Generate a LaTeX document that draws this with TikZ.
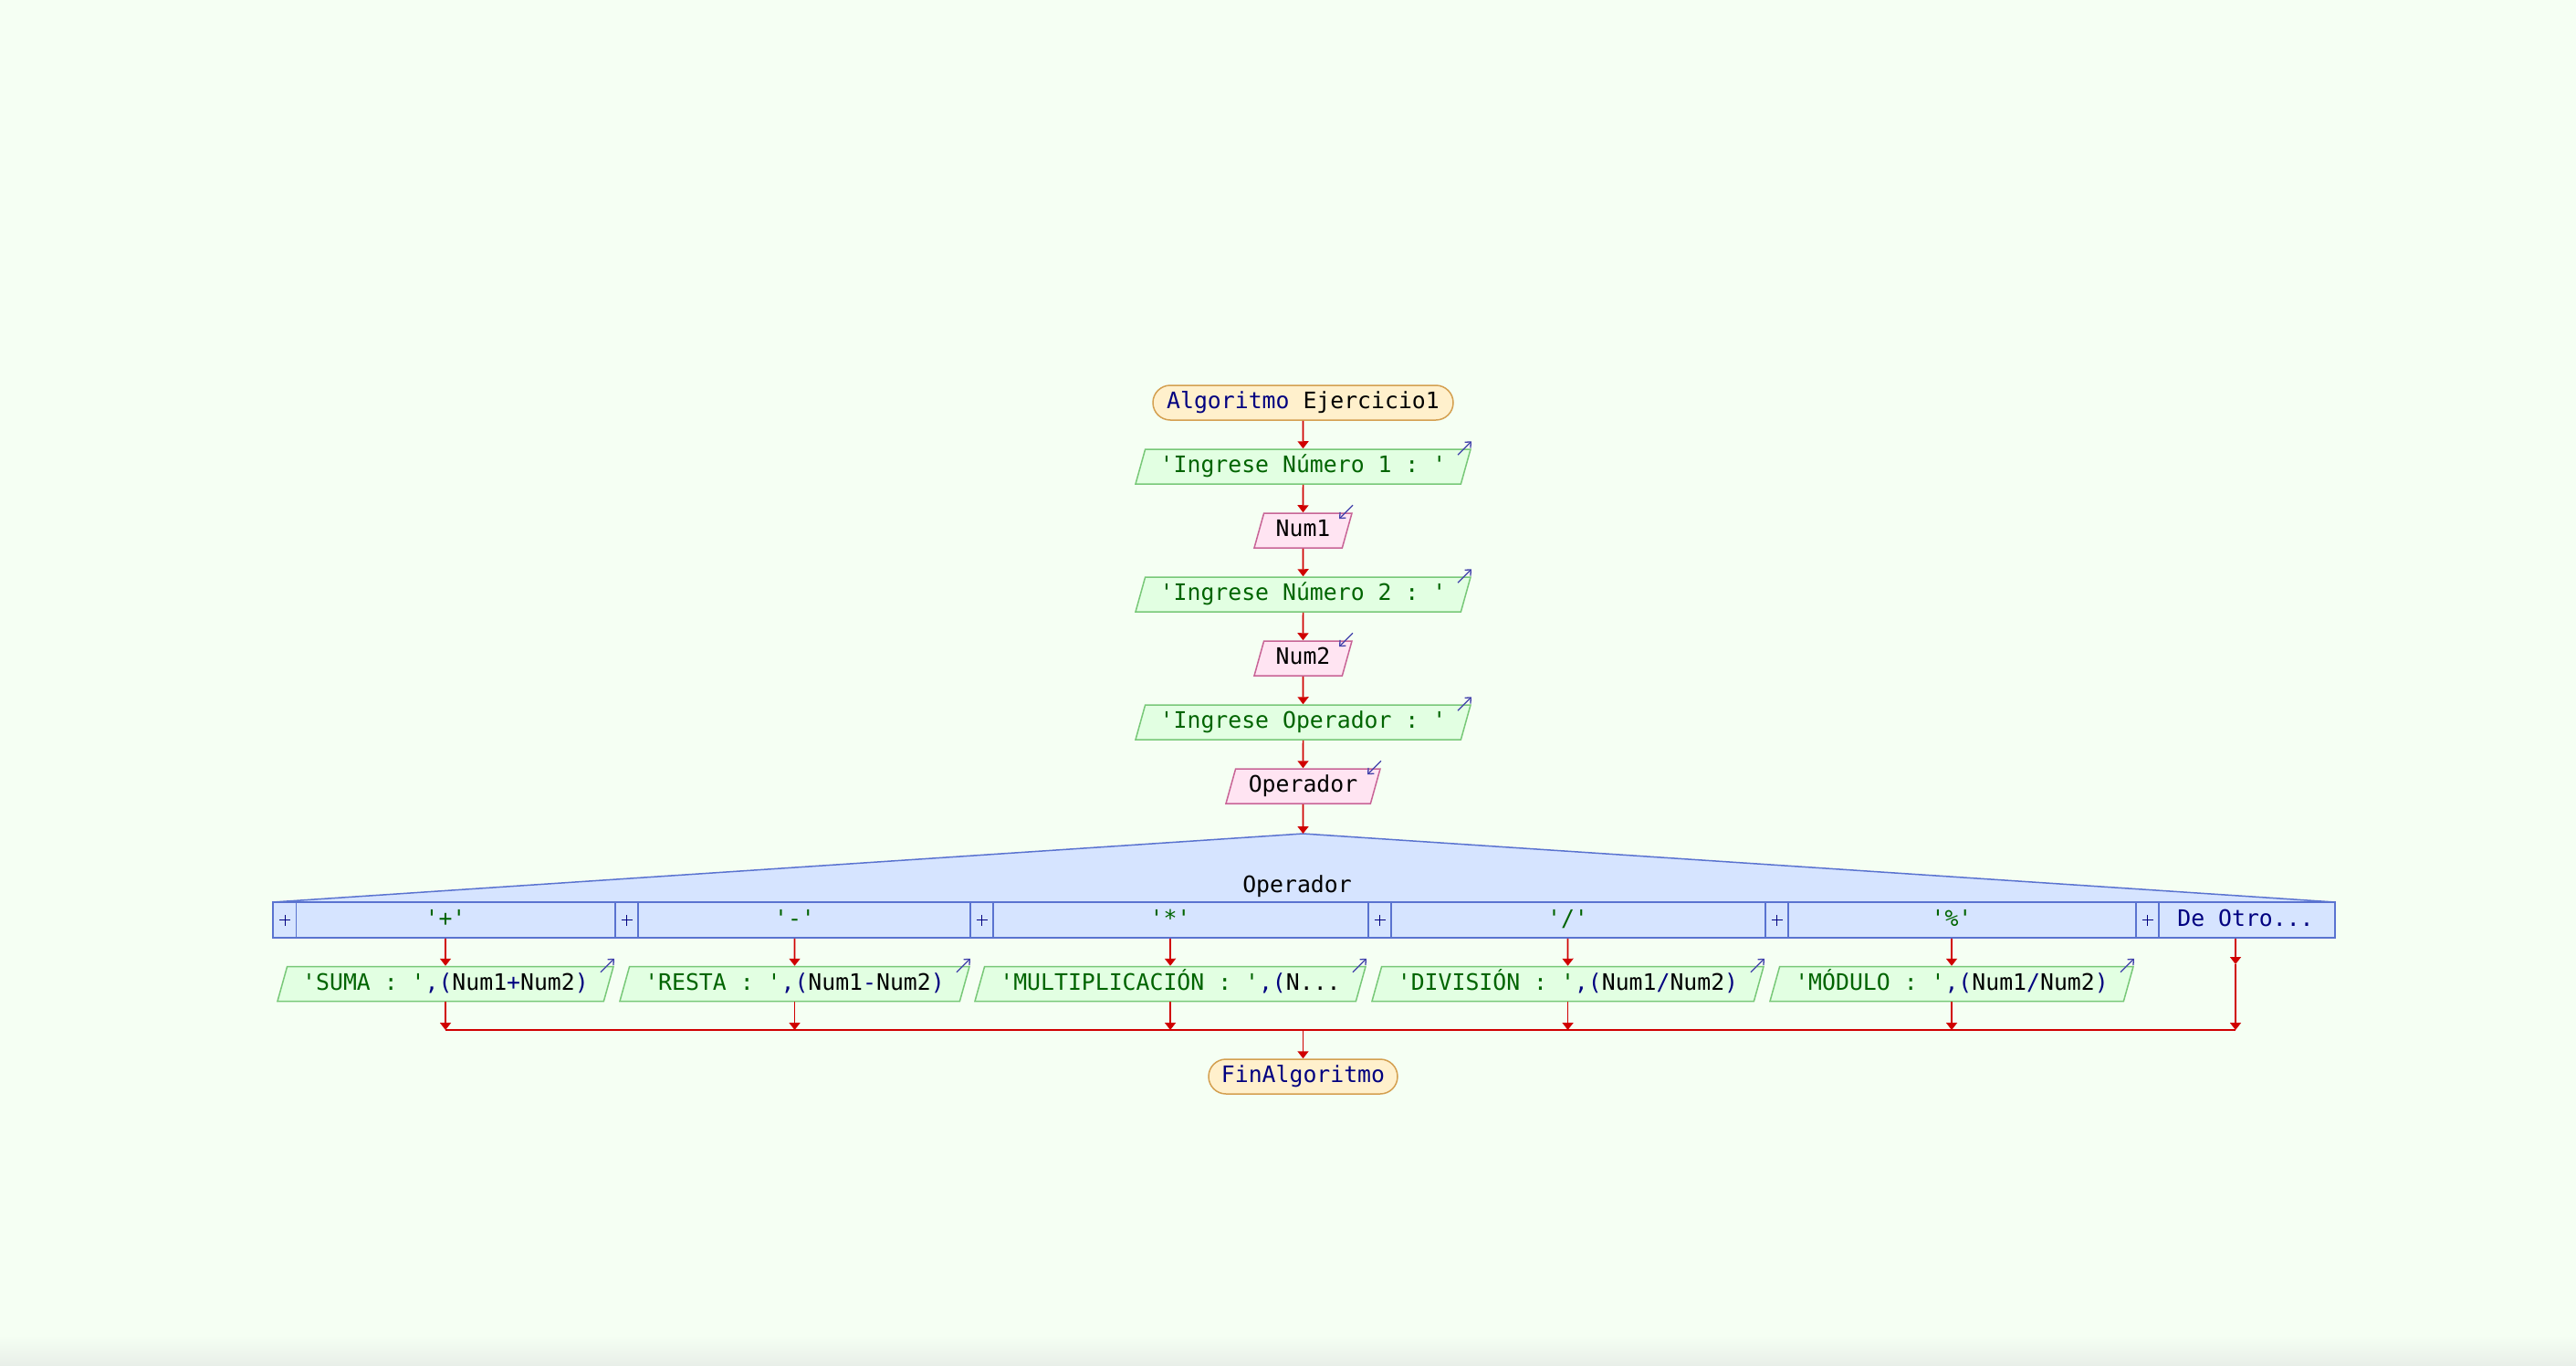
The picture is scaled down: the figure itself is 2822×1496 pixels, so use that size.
\documentclass[tikz,border=0pt]{standalone}
\usepackage{fontspec}
\setmonofont{DejaVu Sans Mono}
\usetikzlibrary{shapes.geometric,arrows.meta}
\definecolor{bgc}{RGB}{245,255,243}
\definecolor{termfill}{RGB}{255,240,204}
\definecolor{termdraw}{RGB}{212,160,80}
\definecolor{outfill}{RGB}{226,255,226}
\definecolor{outdraw}{RGB}{120,200,120}
\definecolor{infill}{RGB}{255,228,242}
\definecolor{indraw}{RGB}{200,100,150}
\definecolor{swfill}{RGB}{214,228,255}
\definecolor{swdraw}{RGB}{90,115,208}
\definecolor{linec}{RGB}{208,0,0}
\definecolor{iconc}{RGB}{64,64,170}
\definecolor{tgreen}{RGB}{0,100,0}
\definecolor{tnavy}{RGB}{0,0,128}
\newcommand\grn[1]{\textcolor{tgreen}{#1}}
\newcommand\nvy[1]{\textcolor{tnavy}{#1}}
\begin{document}
\begin{tikzpicture}[x=1pt,y=-1pt,
  every node/.style={font=\ttfamily\fontsize{24.8pt}{28pt}\selectfont, text height=19pt, text depth=6pt, inner sep=0pt},
  term/.style={rectangle, rounded corners=19pt, minimum height=38pt, draw=termdraw, fill=termfill, line width=1.5pt},
  outp/.style={trapezium, trapezium left angle=67, trapezium right angle=113, trapezium stretches body, minimum height=38pt, draw=outdraw, fill=outfill, line width=1.5pt, text=tgreen},
  inp/.style={trapezium, trapezium left angle=67, trapezium right angle=113, trapezium stretches body, minimum height=38pt, draw=indraw, fill=infill, line width=1.5pt, text=black},
  swrow/.style={rectangle, draw=swdraw, fill=swfill, line width=1.5pt},
  plusbox/.style={rectangle, draw=swdraw, line width=1.5pt, minimum width=25pt, minimum height=39pt,
    path picture={\draw[tnavy, line width=1pt]
      ([xshift=-6pt]path picture bounding box.center) -- ([xshift=6pt]path picture bounding box.center)
      ([yshift=-6pt]path picture bounding box.center) -- ([yshift=6pt]path picture bounding box.center);}},
  lbl/.style={text=tgreen},
  arr/.style={draw=linec, line width=1.6pt, -{Triangle[width=12pt,length=8pt]}},
  plain/.style={draw=linec, line width=1.6pt},
  oicon/.style={draw=iconc, line width=1.3pt, -{Straight Barb[length=5pt,width=9pt]}},
]
% background
\fill[bgc] (0,0) rectangle (2822,1496);
\shade[top color=bgc, bottom color={rgb,255:red,232;green,238;blue,232}] (0,1462) rectangle (2822,1496);
\useasboundingbox (0,0) rectangle (2822,1496);

% main column
\node[term, minimum width=329pt] (start) at (1427.5,441) {\nvy{Algoritmo} Ejercicio1};
\node[outp, minimum width=367pt] (o1) at (1427.5,511) {'Ingrese Número 1 : '};
\node[inp, minimum width=107pt] (i1) at (1427.5,581) {Num1};
\node[outp, minimum width=367pt] (o2) at (1427.5,651) {'Ingrese Número 2 : '};
\node[inp, minimum width=107pt] (i2) at (1427.5,721) {Num2};
\node[outp, minimum width=367pt] (o3) at (1427.5,791) {'Ingrese Operador : '};
\node[inp, minimum width=169pt] (i3) at (1427.5,861) {Operador};

% switch
\coordinate (apex) at (1427.5,913);
\path[fill=swfill, draw=swdraw, line width=1.5pt] (299,988) -- (apex) -- (2558,988) -- cycle;
\node[swrow, minimum width=2259pt, minimum height=39pt] (sw) at (1428.5,1007.5) {};
\node (swl) at (1421,970.5) {Operador};
\node[plusbox] (p1) at (312,1007.5) {};
\node[plusbox] (p2) at (686.5,1007.5) {};
\node[plusbox] (p3) at (1075.5,1007.5) {};
\node[plusbox] (p4) at (1511.5,1007.5) {};
\node[plusbox] (p5) at (1946.5,1007.5) {};
\node[plusbox] (p6) at (2352.5,1007.5) {};
\node[lbl] (l1) at (488,1007.5) {'+'};
\node[lbl] (l2) at (870.5,1007.5) {'-'};
\node[lbl] (l3) at (1282,1007.5) {'*'};
\node[lbl] (l4) at (1717.5,1007.5) {'/'};
\node[lbl] (l5) at (2138,1007.5) {'\%'};
\node[text=tnavy] (l6) at (2460,1007.5) {De Otro...};

% case outputs
\node[outp, minimum width=368pt] (s1) at (488,1077.5) {'SUMA : '\nvy{,(}\textcolor{black}{Num1}\nvy{+}\textcolor{black}{Num2}\nvy{)}};
\node[outp, minimum width=383pt] (s2) at (870.5,1077.5) {'RESTA : '\nvy{,(}\textcolor{black}{Num1}\nvy{-}\textcolor{black}{Num2}\nvy{)}};
\node[outp, minimum width=428pt] (s3) at (1282,1077.5) {'MULTIPLICACIÓN : '\nvy{,(}\textcolor{black}{N...}};
\node[outp, minimum width=429pt] (s4) at (1717.5,1077.5) {'DIVISIÓN : '\nvy{,(}\textcolor{black}{Num1}\nvy{/}\textcolor{black}{Num2}\nvy{)}};
\node[outp, minimum width=398pt] (s5) at (2138,1077.5) {'MÓDULO : '\nvy{,(}\textcolor{black}{Num1}\nvy{/}\textcolor{black}{Num2}\nvy{)}};
\coordinate (e6) at (2449,1056);
\coordinate (m1) at (488,1128);
\coordinate (m6) at (2449,1128);

\node[term, minimum width=207pt] (fin) at (1427.5,1179) {\nvy{FinAlgoritmo}};

% icons
\foreach \n in {o1,o2,o3,s1,s2,s3,s4,s5}{
  \draw[oicon] ([shift={(-15,7)}]\n.top right corner) -- ([shift={(0,-8)}]\n.top right corner);
}
\foreach \n in {i1,i2,i3}{
  \draw[oicon] ([shift={(0,-8)}]\n.top right corner) -- ([shift={(-15,7)}]\n.top right corner);
}

% connectors
\draw[arr] (start.south) -- (o1.north);
\draw[arr] (o1.south) -- (i1.north);
\draw[arr] (i1.south) -- (o2.north);
\draw[arr] (o2.south) -- (i2.north);
\draw[arr] (i2.south) -- (o3.north);
\draw[arr] (o3.south) -- (i3.north);
\draw[arr] (i3.south) -- (apex);
\foreach \k in {1,...,5}{
  \draw[arr] (l\k |- sw.south) -- (s\k.north);
  \draw[arr] (s\k.south) -- (s\k.south |- m1);
}
\draw[arr] (e6 |- sw.south) -- (e6);
\draw[arr] (e6) -- (m6);
\draw[plain] (m1) -- (m6);
\draw[arr] (fin.north |- m1) -- (fin.north);
\end{tikzpicture}
\end{document}
